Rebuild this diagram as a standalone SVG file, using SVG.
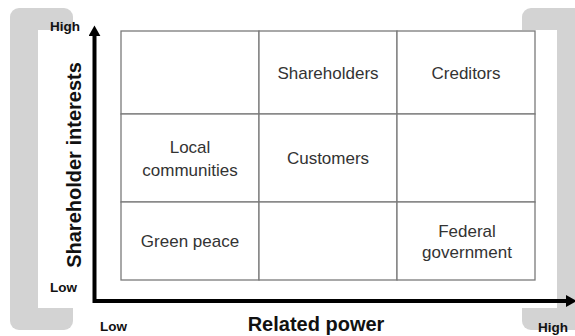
<svg xmlns="http://www.w3.org/2000/svg" width="575" height="336" viewBox="0 0 575 336">
  <style>
    .bracket { fill: #d3d3d3; }
    .cell { fill: #ffffff; stroke: #7a7a7a; stroke-width: 1.3; }
    .lbl { font-family: "Liberation Sans", Arial, sans-serif; font-size: 17px; fill: #333333; text-anchor: middle; }
    .axis-title { font-family: "Liberation Sans", Arial, sans-serif; font-size: 20px; font-weight: bold; fill: #111111; text-anchor: middle; }
    .tick { font-family: "Liberation Sans", Arial, sans-serif; font-size: 13.5px; font-weight: bold; fill: #111111; }
    .axis { fill: none; stroke: #000000; stroke-width: 4; stroke-linejoin: miter; }
  </style>
  <defs>
    <marker id="arrow" markerUnits="userSpaceOnUse" markerWidth="12" markerHeight="12" viewBox="0 0 10 10" refX="1" refY="5" orient="auto-start-reverse">
      <path d="M0,0 L9,5 L0,10 Z" fill="#000000"/>
    </marker>
  </defs>
  <rect width="575" height="336" fill="#ffffff"/>

  <g id="brackets">
    <rect class="bracket" x="10" y="8" width="63" height="322" rx="9"/>
    <rect class="bracket" x="522" y="8" width="70" height="322" rx="9"/>
    <rect x="38" y="30" width="519" height="278" fill="#ffffff"/>
  </g>

  <g id="cell-r1c1"><rect class="cell" x="121" y="31" width="138" height="83"/></g>
  <g id="cell-r1c2"><rect class="cell" x="259" y="31" width="138" height="83"/><text class="lbl" x="328" y="79">Shareholders</text></g>
  <g id="cell-r1c3"><rect class="cell" x="397" y="31" width="138" height="83"/><text class="lbl" x="466" y="79">Creditors</text></g>
  <g id="cell-r2c1"><rect class="cell" x="121" y="114" width="138" height="88"/><text class="lbl" x="190" y="153">Local</text><text class="lbl" x="190" y="176">communities</text></g>
  <g id="cell-r2c2"><rect class="cell" x="259" y="114" width="138" height="88"/><text class="lbl" x="328" y="164">Customers</text></g>
  <g id="cell-r2c3"><rect class="cell" x="397" y="114" width="138" height="88"/></g>
  <g id="cell-r3c1"><rect class="cell" x="121" y="202" width="138" height="78"/><text class="lbl" x="190" y="247">Green peace</text></g>
  <g id="cell-r3c2"><rect class="cell" x="259" y="202" width="138" height="78"/></g>
  <g id="cell-r3c3"><rect class="cell" x="397" y="202" width="138" height="78"/><text class="lbl" x="467" y="237">Federal</text><text class="lbl" x="467" y="258">government</text></g>

  <g id="connectors">
    <path class="axis" d="M94.5,35 L94.5,301 L567,301" marker-start="url(#arrow)" marker-end="url(#arrow)"/>
  </g>

  <g id="labels">
    <text class="axis-title" transform="translate(81,165) rotate(-90)">Shareholder interests</text>
    <text class="axis-title" x="316" y="331">Related power</text>
    <text class="tick" x="50" y="31">High</text>
    <text class="tick" x="50" y="292">Low</text>
    <text class="tick" x="100" y="331">Low</text>
    <text class="tick" x="538" y="332">High</text>
  </g>
</svg>
